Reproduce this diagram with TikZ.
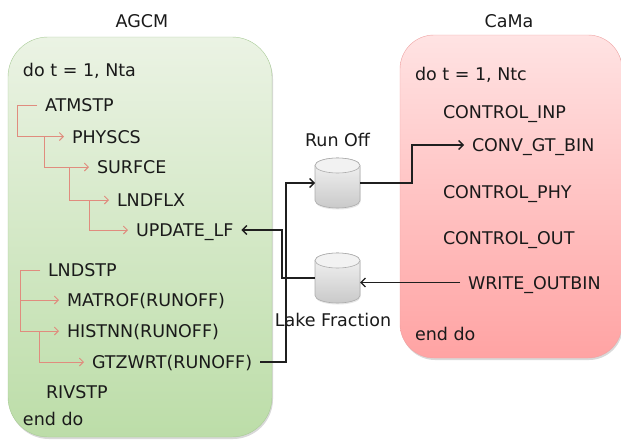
\documentclass[tikz,border=0pt]{standalone}
\usepackage{fontspec}
\setmainfont{DejaVu Sans}
\usetikzlibrary{shadows,arrows.meta}
\definecolor{agcmtop}{HTML}{EBF3E4}
\definecolor{agcmbot}{HTML}{BCDDA8}
\definecolor{agcmline}{HTML}{A9CB97}
\definecolor{camatop}{HTML}{FFE3E3}
\definecolor{camabot}{HTML}{FFA3A3}
\definecolor{camaline}{HTML}{EFA3A3}
\definecolor{treeline}{HTML}{E08C7E}
\definecolor{txt}{HTML}{1A1A1A}

\begin{document}
\begin{tikzpicture}[x=1pt,y=-1pt,
  lbl/.style={text=txt,font=\fontsize{17.5}{21}\selectfont,inner sep=0pt,outer sep=8pt,
    text height=13pt,text depth=0pt,anchor=west},
  head/.style={text=txt,font=\fontsize{17.5}{21}\selectfont},
  tree/.style={-{Straight Barb[length=4pt,width=8pt]},treeline,line width=0.9pt},
  flow/.style={-{Straight Barb[length=4.5pt,width=9pt]},black!88,line width=1.3pt},
  can/.style={minimum width=45pt,minimum height=50pt,inner sep=0pt,outer sep=0pt}]
\useasboundingbox (0,0) rectangle (621,439);

% the two models
\path[draw=agcmline,top color=agcmtop,bottom color=agcmbot,rounded corners=40pt,
  drop shadow={shadow xshift=1pt,shadow yshift=-2pt,opacity=0.3}] (8,37) rectangle (272,437);
\path[draw=camaline,top color=camatop,bottom color=camabot,rounded corners=34pt,
  drop shadow={shadow xshift=1pt,shadow yshift=-2pt,opacity=0.3}] (400,35) rectangle (622,358);
\node[head] (agcm) at (142,21) {AGCM};
\node[head] (cama) at (509,21) {CaMa};

% AGCM loop
\node[lbl] (do1) at (15,70) {do t = 1, Nta};
\node[lbl] (atm) at (37,105) {ATMSTP};
\node[lbl] (phy) at (64,136.5) {PHYSCS};
\node[lbl] (srf) at (89,167) {SURFCE};
\node[lbl] (lfx) at (109,200) {LNDFLX};
\node[lbl] (upd) at (128,230) {UPDATE\_LF};
\node[lbl] (lst) at (40,270) {LNDSTP};
\node[lbl] (mat) at (59,300) {MATROF(RUNOFF)};
\node[lbl] (his) at (59,331) {HISTNN(RUNOFF)};
\node[lbl] (gtz) at (84,362) {GTZWRT(RUNOFF)};
\node[lbl] (riv) at (38,392) {RIVSTP};
\node[lbl] (end1) at (15,419) {end do};

\draw[tree] (atm.west) -- ++(-20,0) |- (phy.west);
\draw[tree] ([xshift=-20pt]phy.west) |- (srf.west);
\draw[tree] ([xshift=-20pt]srf.west) |- (lfx.west);
\draw[tree] ([xshift=-20pt]lfx.west) |- (upd.west);
\draw[tree] (lst.west) -- ++(-20,0) |- (mat.west);
\draw[tree] (lst.west) -- ++(-20,0) |- (his.west);
\draw[tree] ([xshift=-20pt]his.west) |- (gtz.west);

% CaMa loop
\node[lbl] (do2) at (407,73.5) {do t = 1, Ntc};
\node[lbl] (inp) at (435,112) {CONTROL\_INP};
\node[lbl] (conv) at (464,145) {CONV\_GT\_BIN};
\node[lbl] (cphy) at (435,192) {CONTROL\_PHY};
\node[lbl] (cout) at (435,237.5) {CONTROL\_OUT};
\node[lbl] (wout) at (460,282.5) {WRITE\_OUTBIN};
\node[lbl] (end2) at (407,333.5) {end do};

% exchanged files
\node[can] (runoff) at (337.5,183) {};
\node[can] (lake) at (337.5,278) {};
\foreach \c in {runoff,lake}{
  \shade[draw=gray!65,line width=0.6pt,top color=gray!8,bottom color=gray!42,
    drop shadow={shadow xshift=0.5pt,shadow yshift=-1.5pt,opacity=0.2}]
    ([yshift=-7.5pt]\c.north west) -- ([yshift=7.5pt]\c.south west)
    arc[start angle=180,end angle=360,x radius=22.5pt,y radius=7.5pt]
    -- ([yshift=-7.5pt]\c.north east)
    arc[start angle=0,end angle=180,x radius=22.5pt,y radius=7.5pt] -- cycle;
  \draw[gray!65,line width=0.6pt,fill=gray!10]
    ([yshift=-7.5pt]\c.north) ellipse[x radius=22.5pt,y radius=7.5pt];
}
\node[head] (runlbl) at (337.5,140) {Run Off};
\node[head] (lakelbl) at (333,320) {Lake Fraction};

\draw[flow] (gtz.east) -- ++(26,0) |- (runoff.west);
\draw[flow] (runoff.east) -- ++(52,0) |- (conv.west);
\draw[flow] (wout.west) -- (lake.east |- wout.west);
\draw[flow] (lake.west) -- ++(-33,0) |- (upd.east);
\end{tikzpicture}
\end{document}
